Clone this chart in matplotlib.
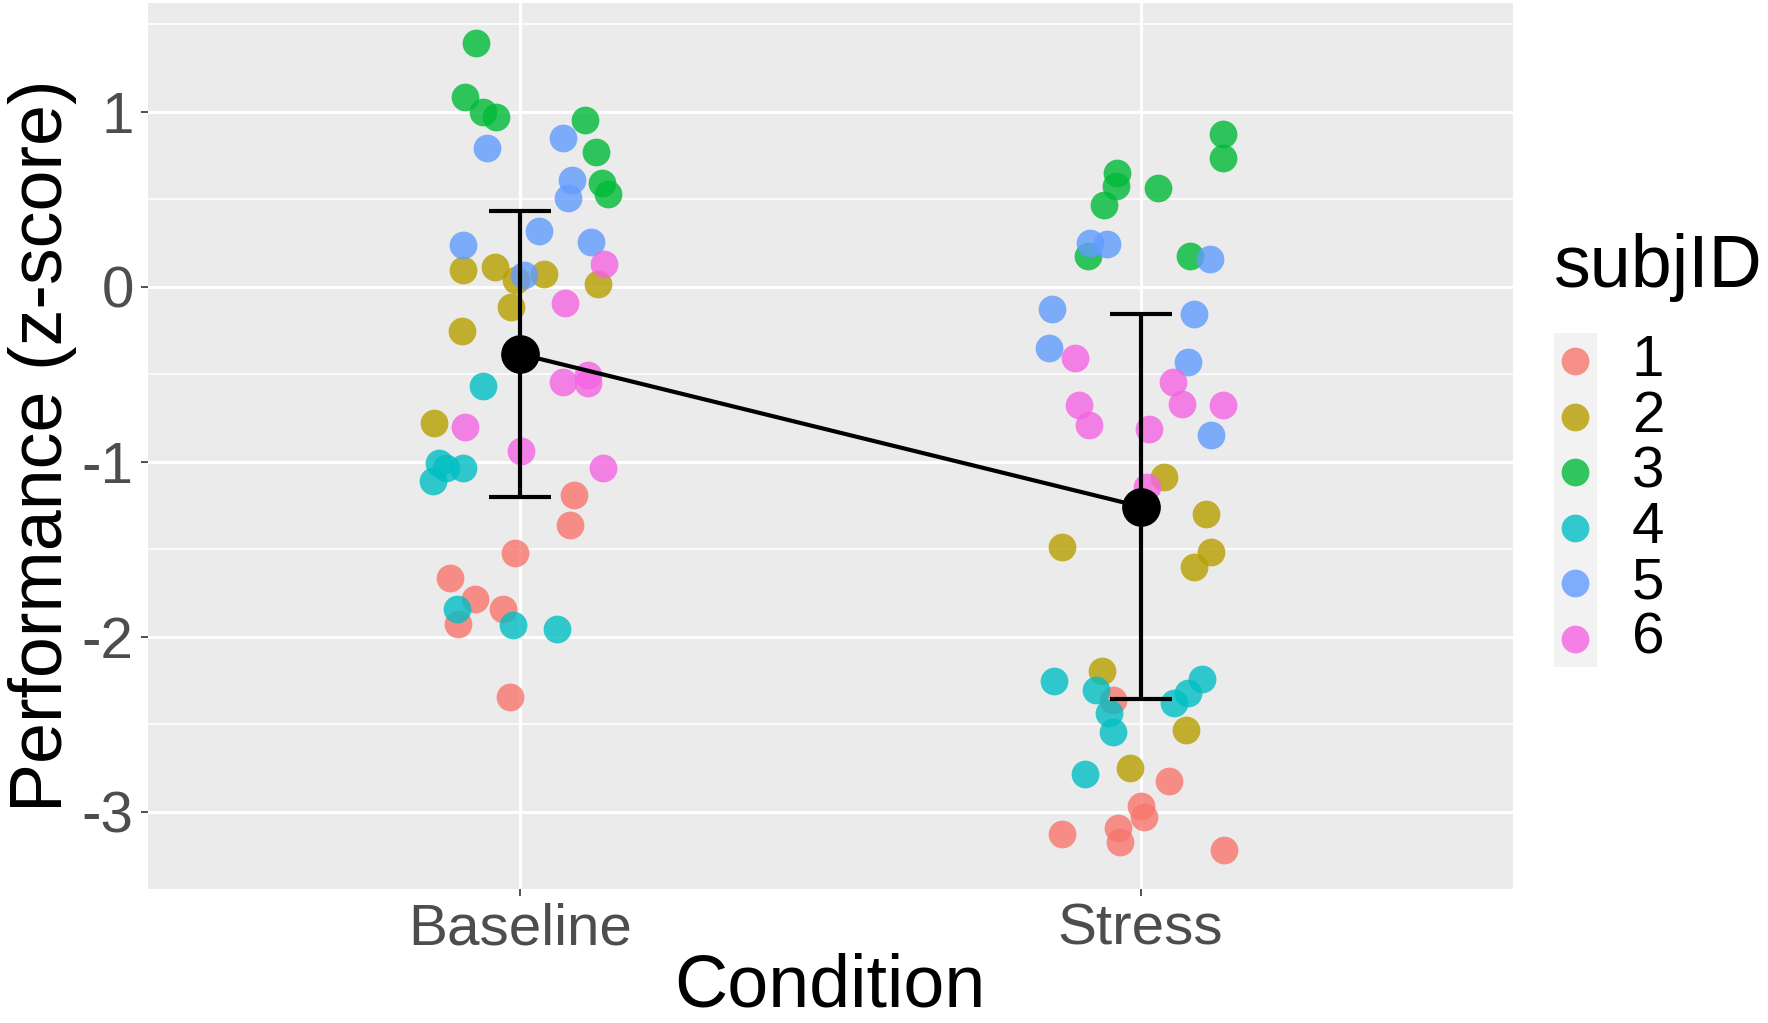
import matplotlib.pyplot as plt
from matplotlib.lines import Line2D
from matplotlib.patches import Rectangle

plt.rcParams["font.family"] = ["Liberation Sans", "DejaVu Sans"]
plt.rcParams["axes.unicode_minus"] = False

# ========================= Data =========================#
conditions = ["Baseline", "Stress"]
subjects = ["1", "2", "3", "4", "5", "6"]
colors = ["#F8766D", "#B79F00", "#00BA38", "#00BFC4", "#619CFF", "#F564E3"]

# per subject: z-score values and horizontal jitter (category units)
baseline_y = [
    [-1.190, -1.360, -1.522, -1.663, -1.785, -1.844, -1.926, -2.347],
    [0.095, 0.114, 0.038, 0.072, -0.114, 0.013, -0.251, -0.777],
    [1.394, 1.082, 1.000, 0.971, 0.952, 0.771, 0.594, 0.528],
    [-0.568, -1.010, -1.038, -1.034, -1.110, -1.844, -1.933, -1.954],
    [0.790, 0.852, 0.610, 0.507, 0.238, 0.318, 0.257, 0.067],
    [0.130, -0.095, -0.543, -0.505, -0.552, -0.800, -0.939, -1.034],
]
baseline_jit = [
    [0.087, 0.081, -0.008, -0.113, -0.072, -0.027, -0.100, -0.016],
    [-0.092, -0.040, -0.006, 0.039, -0.014, 0.125, -0.094, -0.138],
    [-0.071, -0.089, -0.059, -0.039, 0.104, 0.123, 0.132, 0.142],
    [-0.060, -0.130, -0.119, -0.092, -0.141, -0.102, -0.012, 0.059],
    [-0.054, 0.070, 0.083, 0.078, -0.092, 0.030, 0.115, 0.007],
    [0.136, 0.072, 0.070, 0.109, 0.110, -0.088, 0.002, 0.134],
]
stress_y = [
    [-2.362, -2.827, -2.968, -3.030, -3.129, -3.095, -3.173, -3.219],
    [-1.087, -1.297, -1.488, -1.514, -1.604, -2.196, -2.535, -2.752],
    [0.872, 0.737, 0.651, 0.575, 0.467, 0.562, 0.177, 0.177],
    [-2.252, -2.306, -2.434, -2.548, -2.379, -2.320, -2.240, -2.786],
    [0.251, 0.244, 0.156, -0.127, -0.154, -0.352, -0.432, -0.846],
    [-0.406, -0.546, -0.676, -0.670, -0.676, -0.792, -0.811, -1.143],
]
stress_jit = [
    [-0.044, 0.046, 0.000, 0.006, -0.126, -0.036, -0.034, 0.134],
    [0.037, 0.105, -0.126, 0.113, 0.086, -0.063, 0.073, -0.017],
    [0.132, 0.132, -0.038, -0.040, -0.059, 0.028, -0.085, 0.080],
    [-0.139, -0.072, -0.051, -0.044, 0.053, 0.076, 0.099, -0.089],
    [-0.082, -0.055, 0.111, -0.143, 0.086, -0.147, 0.076, 0.114],
    [-0.106, 0.052, -0.099, 0.067, 0.132, -0.084, 0.013, 0.011],
]

group_mean = [-0.385, -1.257]
group_err = [0.818, 1.101]

# ========================= Figure =========================#
fig = plt.figure(figsize=(17.68, 10.23), dpi=100)
ax = fig.add_axes([0.0835, 0.1314, 0.7723, 0.8653])
ax.set_facecolor("#EBEBEB")
for s in ax.spines.values():
    s.set_visible(False)

ax.set_xlim(0.4, 2.6)
ax.set_ylim(-3.44, 1.619)
ax.set_xticks([1, 2])
ax.set_xticklabels(conditions)
ax.set_yticks([1, 0, -1, -2, -3])
ax.set_yticks([1.5, 0.5, -0.5, -1.5, -2.5], minor=True)
ax.tick_params(axis="both", which="major", labelsize=42, labelcolor="#4D4D4D",
               color="#333333", length=5, width=1.2, pad=5)
ax.tick_params(axis="y", which="minor", length=0)
ax.grid(True, which="major", color="white", lw=2.2)
ax.grid(True, which="minor", axis="y", color="white", lw=1.1)
ax.set_axisbelow(True)

for k in range(len(subjects)):
    xs = [1 + j for j in baseline_jit[k]] + [2 + j for j in stress_jit[k]]
    ys = baseline_y[k] + stress_y[k]
    ax.scatter(xs, ys, s=400, color=colors[k], alpha=0.8, linewidths=0, zorder=3)

ax.plot([1, 2], group_mean, color="black", lw=3, zorder=4)
ax.errorbar([1, 2], group_mean, yerr=group_err, fmt="none", ecolor="black",
            elinewidth=3, capsize=22, capthick=3, zorder=4)
ax.scatter([1, 2], group_mean, s=720, color="black", zorder=5)

ax.set_xlabel("Condition", fontsize=53, labelpad=-3)
ax.set_ylabel("Performance (z-score)", fontsize=53)
ax.yaxis.set_label_coords(-0.052, 0.5)

# ========================= Legend =========================#
fig.text(1554 / 1768, 1 - 268 / 1023, "subjID", fontsize=53, va="center", ha="left")
key_step = 55.6
fig.add_artist(Rectangle((1554 / 1768, 1 - 667 / 1023), 43 / 1768, 334 / 1023,
                         transform=fig.transFigure, facecolor="#F2F2F2", edgecolor="none"))
for k, lab in enumerate(subjects):
    yc = 1 - (361 + k * key_step) / 1023
    fig.add_artist(Line2D([1575 / 1768], [yc], marker="o", markersize=20,
                          color=colors[k], alpha=0.8, markeredgewidth=0,
                          transform=fig.transFigure))
    fig.text(1632 / 1768, yc, lab, fontsize=42, va="center", ha="left")

fig.savefig("out.png", dpi=100)
